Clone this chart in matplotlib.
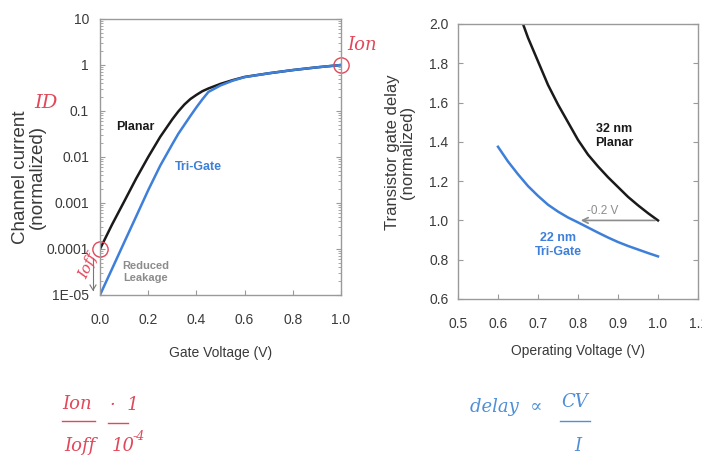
import matplotlib
matplotlib.use('Agg')
import matplotlib.pyplot as plt
from matplotlib.lines import Line2D

plt.rcParams['font.family'] = ['Liberation Sans', 'DejaVu Sans']

# left panel: channel current vs gate voltage
planar_vg = [0.0, 0.05, 0.1, 0.15, 0.2, 0.25, 0.3, 0.325, 0.35, 0.375, 0.4, 0.425, 0.45,
             0.5, 0.55, 0.6, 0.7, 0.8, 0.9, 1.0]
planar_id = [1.0e-4, 3.4e-4, 1.07e-3, 3.4e-3, 0.010, 0.0275, 0.066, 0.098, 0.138, 0.182,
             0.224, 0.27, 0.309, 0.389, 0.468, 0.55, 0.66, 0.776, 0.89, 1.0]
trigate_vg = [0.0, 0.05, 0.1, 0.15, 0.2, 0.25, 0.3, 0.325, 0.35, 0.375, 0.4, 0.425, 0.45,
              0.5, 0.55, 0.6, 0.7, 0.8, 0.9, 1.0]
trigate_id = [1.0e-5, 3.7e-5, 1.38e-4, 5.1e-4, 1.9e-3, 6.5e-3, 0.019, 0.032, 0.050, 0.078,
              0.12, 0.18, 0.26, 0.36, 0.455, 0.545, 0.66, 0.776, 0.89, 1.0]
left_yticks = [1e-5, 1e-4, 1e-3, 1e-2, 1e-1, 1, 10]
left_ylabels = ['1E-05', '0.0001', '0.001', '0.01', '0.1', '1', '10']
left_xticks = [0.0, 0.2, 0.4, 0.6, 0.8, 1.0]

# right panel: gate delay vs operating voltage
planar_v = [0.6625, 0.675, 0.7, 0.725, 0.75, 0.775, 0.8, 0.825, 0.85, 0.875, 0.9, 0.925,
            0.95, 0.975, 1.0]
planar_delay = [2.0, 1.93, 1.81, 1.69, 1.59, 1.50, 1.41, 1.335, 1.275, 1.22, 1.17, 1.12,
                1.077, 1.037, 1.0]
trigate_v = [0.6, 0.625, 0.65, 0.675, 0.7, 0.725, 0.75, 0.775, 0.8, 0.825, 0.85, 0.875,
             0.9, 0.925, 0.95, 0.975, 1.0]
trigate_delay = [1.375, 1.30, 1.235, 1.175, 1.125, 1.08, 1.045, 1.015, 0.99, 0.964, 0.938,
                 0.913, 0.89, 0.87, 0.852, 0.834, 0.817]
right_xticks = [0.5, 0.6, 0.7, 0.8, 0.9, 1.0, 1.1]
right_yticks = [0.6, 0.8, 1.0, 1.2, 1.4, 1.6, 1.8, 2.0]

black = '#1a1a1a'
blue = '#3d7fd9'
gray = '#8c8c8c'
txt = '#3a3a3a'
red = '#e2475a'
pen_blue = '#4f8fd6'

W, H = 702, 471
fig = plt.figure(figsize=(7.02, 4.71), dpi=100)

def fx(px):
    return px / W

def fy(py):
    return 1 - py / H

def style_axes(ax):
    for s in ax.spines.values():
        s.set_color('#9a9a9a')
        s.set_linewidth(1.0)
    ax.tick_params(direction='in', which='both', right=True, colors='#9a9a9a',
                   labelcolor=txt, labelsize=10)
    ax.tick_params(axis='x', pad=13)
    ax.tick_params(axis='y', pad=8)

# ---- left chart
ax1 = fig.add_axes([fx(100), fy(295), fx(241), 276 / H])
ax1.semilogy(planar_vg, planar_id, color=black, lw=1.8, solid_joinstyle='round')
ax1.semilogy(trigate_vg, trigate_id, color=blue, lw=1.8, solid_joinstyle='round')
ax1.set_xlim(0, 1.0)
ax1.set_ylim(1e-5, 10)
ax1.set_xticks(left_xticks)
ax1.set_xticklabels(['%.1f' % v for v in left_xticks])
ax1.set_yticks(left_yticks)
ax1.set_yticklabels(left_ylabels)
style_axes(ax1)
ax1.tick_params(which='minor', length=2)
ax1.set_xlabel('Gate Voltage (V)', fontsize=10, color=txt, labelpad=14)

ax1.text(0.145, 0.045, 'Planar', fontsize=9, fontweight='bold', color=black, ha='center', va='center')
ax1.text(0.41, 0.006, 'Tri-Gate', fontsize=9, fontweight='bold', color=blue, ha='center', va='center')
ax1.text(0.19, 3.2e-5, 'Reduced\nLeakage', fontsize=8, fontweight='bold', color=gray,
         ha='center', va='center', linespacing=1.3)

fig.text(fx(29), fy(177), 'Channel current\n(normalized)', rotation=90, ha='center', va='center',
         fontsize=13.5, color=txt, linespacing=1.05)

# ---- right chart
ax2 = fig.add_axes([fx(458), fy(299), fx(240), 275 / H])
ax2.plot(planar_v, planar_delay, color=black, lw=1.8, solid_joinstyle='round')
ax2.plot(trigate_v, trigate_delay, color=blue, lw=1.8, solid_joinstyle='round')
ax2.set_xlim(0.5, 1.1)
ax2.set_ylim(0.6, 2.0)
ax2.set_xticks(right_xticks)
ax2.set_xticklabels(['%.1f' % v for v in right_xticks])
ax2.set_yticks(right_yticks)
ax2.set_yticklabels(['%.1f' % v for v in right_yticks])
style_axes(ax2)
ax2.tick_params(axis='y', pad=7)
ax2.set_xlabel('Operating Voltage (V)', fontsize=10, color=txt, labelpad=9)

ax2.annotate('', xy=(0.8, 1.0), xytext=(1.0, 1.0),
             arrowprops=dict(arrowstyle='->', color=gray, lw=1.2))
ax2.text(0.862, 1.046, '-0.2 V', fontsize=8.5, color=gray, ha='center', va='center')
ax2.text(0.89, 1.43, '32 nm\nPlanar', fontsize=9, fontweight='bold', color=black,
         ha='center', va='center', linespacing=1.3)
ax2.text(0.75, 0.875, '22 nm\nTri-Gate', fontsize=9, fontweight='bold', color=blue,
         ha='center', va='center', linespacing=1.3)

fig.text(fx(400), fy(152), 'Transistor gate delay\n(normalized)', rotation=90, ha='center',
         va='center', fontsize=12, color=txt, linespacing=1.05)

# ---- handwritten notes
hand = dict(family='DejaVu Serif', style='italic')
ax1.plot([1.0], [1.0], 'o', ms=11, mfc='none', mec=red, mew=1.0, clip_on=False)
ax1.plot([0.0], [1e-4], 'o', ms=11, mfc='none', mec=red, mew=1.0, clip_on=False)
fig.text(fx(347), fy(50), 'Ion', color=red, fontsize=13, **hand)
fig.text(fx(34), fy(108), 'ID', color=red, fontsize=14, **hand)
fig.text(fx(88), fy(266), 'Ioff', color=red, fontsize=11, rotation=65, ha='center', va='center', **hand)
fig.add_artist(Line2D([fx(93), fx(93)], [fy(258), fy(290)], color='#777777', lw=0.8))
fig.add_artist(Line2D([fx(90), fx(93), fx(96)], [fy(285), fy(290), fy(285)], color='#777777', lw=0.8))

fig.text(fx(77), fy(404), 'Ion', color=red, fontsize=13, ha='center', va='center', **hand)
fig.add_artist(Line2D([fx(62), fx(95)], [fy(421), fy(421)], color=red, lw=1.0))
fig.text(fx(80), fy(446), 'Ioff', color=red, fontsize=13, ha='center', va='center', **hand)
fig.text(fx(110), fy(405), '·  1', color=red, fontsize=13, ha='left', va='center', **hand)
fig.add_artist(Line2D([fx(108), fx(128)], [fy(423), fy(423)], color=red, lw=1.0))
fig.text(fx(112), fy(446), '10', color=red, fontsize=13, ha='left', va='center', **hand)
fig.text(fx(133), fy(437), '-4', color=red, fontsize=9, ha='left', va='center', **hand)

fig.text(fx(470), fy(407), 'delay  \u221d', color=pen_blue, fontsize=13, ha='left', va='center', **hand)
fig.text(fx(575), fy(402), 'CV', color=pen_blue, fontsize=13, ha='center', va='center', **hand)
fig.add_artist(Line2D([fx(560), fx(590)], [fy(421), fy(421)], color=pen_blue, lw=1.0))
fig.text(fx(578), fy(446), 'I', color=pen_blue, fontsize=13, ha='center', va='center', **hand)

plt.savefig('out.png', dpi=100)
